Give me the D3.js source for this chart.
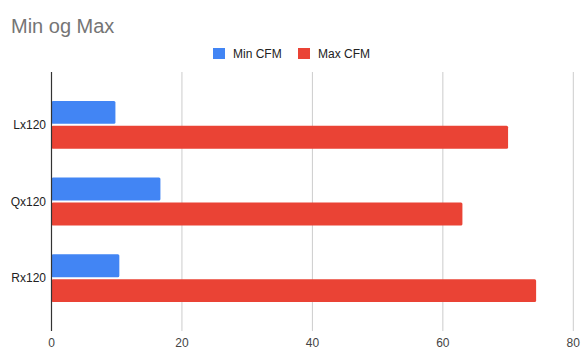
<!DOCTYPE html>
<html>
<head>
    <title>Min og Max</title>
    <script src="https://d3js.org/d3.v7.min.js"></script>
    <style>
        body { margin: 0; background: #fff; }
        text { font-family: "Liberation Sans", Arial, sans-serif; }
    </style>
</head>
<body>
    <div id="chart"></div>
    <script>
        // chart data
        const categories = ["Lx120", "Qx120", "Rx120"]
        const seriesNames = ["Min CFM", "Max CFM"]
        const minCFM = [9.8, 16.7, 10.4]
        const maxCFM = [70, 63, 74.3]
        const xTicks = [0, 20, 40, 60, 80]
        const colors = ["#4285f4", "#ea4335"]

        const width = 585, height = 363
        const margin = { top: 72, right: 12, bottom: 32, left: 51.5 }

        const svg = d3.select("#chart")
            .append("svg")
            .attr("width", width)
            .attr("height", height)

        svg.append("rect").attr("width", width).attr("height", height).attr("fill", "#fff")

        // title
        svg.append("text")
            .attr("x", 11)
            .attr("y", 33)
            .attr("font-size", 20)
            .attr("fill", "#757575")
            .text("Min og Max")

        const x = d3.scaleLinear().domain([0, 80]).range([margin.left, 573.3])
        const y = d3.scaleBand().domain(categories)
            .range([margin.top, height - margin.bottom])
            .paddingInner(0.377).paddingOuter(0.377)
        const ySub = d3.scaleBand().domain(seriesNames)
            .range([0, y.bandwidth()])
            .paddingInner(0.08)

        // gridlines
        svg.append("g")
            .selectAll("line")
            .data(xTicks.filter(t => t !== 0))
            .join("line")
            .attr("x1", d => x(d)).attr("x2", d => x(d))
            .attr("y1", margin.top).attr("y2", height - margin.bottom)
            .attr("stroke", "#cccccc")
            .attr("stroke-width", 1)

        // bars
        const rows = categories.map((c, i) => ({ cat: c, values: [minCFM[i], maxCFM[i]] }))
        svg.append("g")
            .selectAll("g")
            .data(rows)
            .join("g")
            .attr("transform", d => `translate(0,${y(d.cat)})`)
            .selectAll("rect")
            .data(d => d.values.map((v, j) => ({ name: seriesNames[j], v, j })))
            .join("rect")
            .attr("x", x(0))
            .attr("y", d => ySub(d.name))
            .attr("width", d => x(d.v) - x(0))
            .attr("height", ySub.bandwidth())
            .attr("rx", 1.5)
            .attr("fill", d => colors[d.j])

        // zero axis line
        svg.append("line")
            .attr("x1", x(0)).attr("x2", x(0))
            .attr("y1", margin.top).attr("y2", height - margin.bottom)
            .attr("stroke", "#333333")
            .attr("stroke-width", 1.2)

        // x tick labels
        svg.append("g")
            .selectAll("text")
            .data(xTicks)
            .join("text")
            .attr("x", d => x(d))
            .attr("y", 347)
            .attr("text-anchor", "middle")
            .attr("font-size", 12)
            .attr("fill", "#444444")
            .text(d => d)

        // category labels
        svg.append("g")
            .selectAll("text")
            .data(categories)
            .join("text")
            .attr("x", 46)
            .attr("y", d => y(d) + y.bandwidth() / 2)
            .attr("dy", "0.35em")
            .attr("text-anchor", "end")
            .attr("font-size", 12)
            .attr("fill", "#222222")
            .text(d => d)

        // legend
        const legendX = [213, 298]
        const legend = svg.append("g")
            .selectAll("g")
            .data(seriesNames)
            .join("g")
            .attr("transform", (d, i) => `translate(${legendX[i]},48)`)
        legend.append("rect")
            .attr("width", 12).attr("height", 11)
            .attr("fill", (d, i) => colors[i])
        legend.append("text")
            .attr("x", 20)
            .attr("y", 10)
            .attr("font-size", 12)
            .attr("fill", "#222222")
            .text(d => d)
    </script>
</body>
</html>
